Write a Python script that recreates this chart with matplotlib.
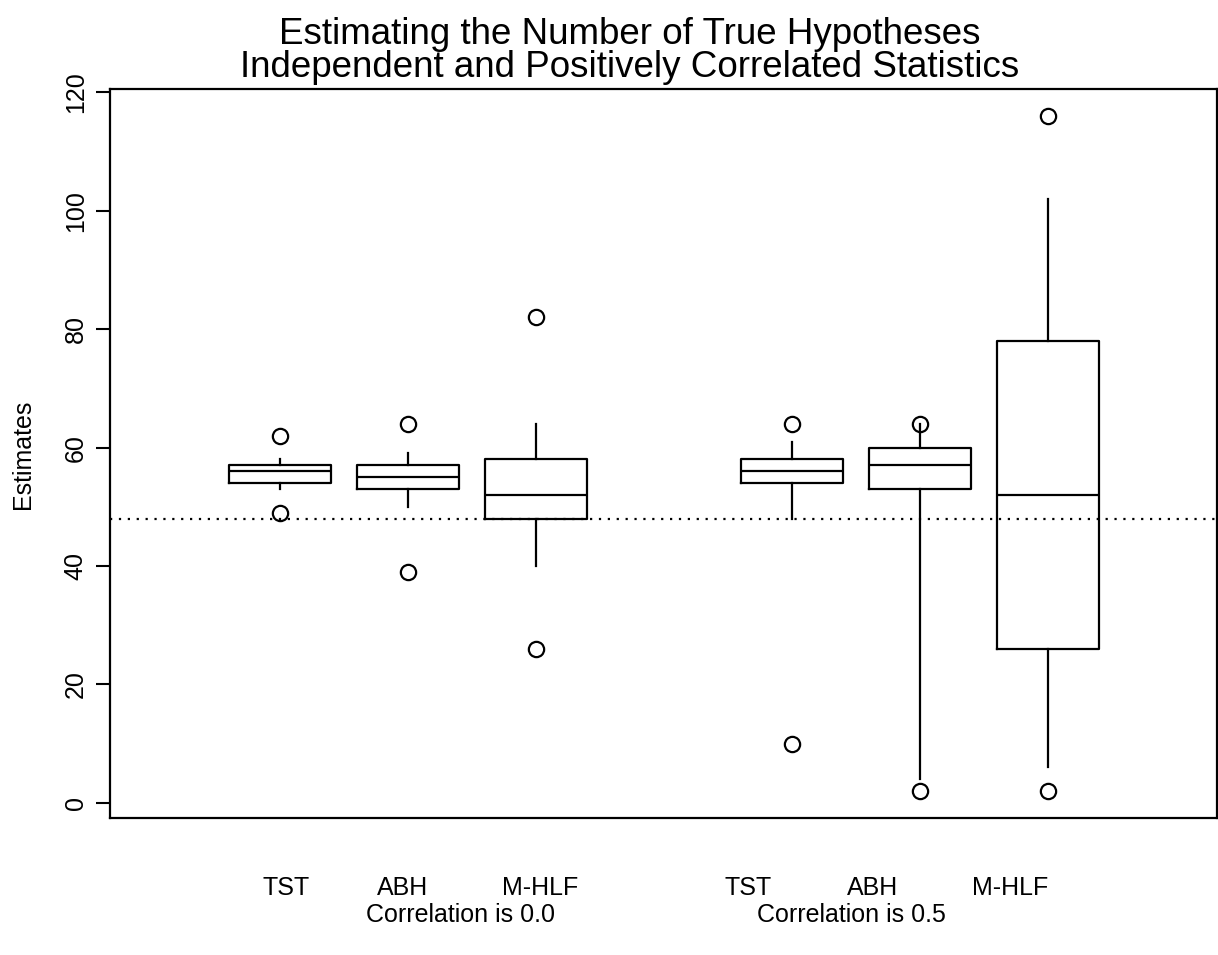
import matplotlib
matplotlib.use("Agg")
import matplotlib.pyplot as plt

plt.rcParams['font.family'] = ['Liberation Sans', 'DejaVu Sans']

# Box summaries (two correlation settings, three methods each)
methods = ["TST", "ABH", "M-HLF", "TST", "ABH", "M-HLF"]
positions = [1, 2, 3, 5, 6, 7]
medians = [56, 55, 52, 56, 57, 52]
q1 = [54, 53, 48, 54, 53, 26]
q3 = [57, 57, 58, 58, 60, 78]
whisker_low = [53, 50, 40, 48, 4, 6]
whisker_high = [58, 59, 64, 61, 64, 102]
outliers = [[62, 49], [64, 39], [82, 26], [64, 10], [64, 2], [116, 2]]
true_value = 48
# where the method names and group names sit under the plot (x in box units)
method_label_pos = [1.05, 1.96, 3.03, 4.66, 5.63, 6.70]
group_labels = ["Correlation is 0.0", "Correlation is 0.5"]
group_label_pos = [2.41, 5.46]

stats = []
for i in range(len(methods)):
    stats.append({
        "med": medians[i], "q1": q1[i], "q3": q3[i],
        "whislo": whisker_low[i], "whishi": whisker_high[i],
        "fliers": outliers[i], "label": methods[i],
    })

W, H = 1218, 955
fig = plt.figure(figsize=(W / 100, H / 100), dpi=100)
ax = fig.add_axes([110 / W, 1 - 818 / H, (1217 - 110) / W, (818 - 89) / H])

lw = 1.6
ax.bxp(stats, positions=positions, widths=0.8, showcaps=False,
       boxprops=dict(color="black", linewidth=lw),
       whiskerprops=dict(color="black", linewidth=lw),
       medianprops=dict(color="black", linewidth=lw),
       flierprops=dict(marker="o", markerfacecolor="none", markeredgecolor="black",
                       markersize=11, markeredgewidth=1.6))

ax.axhline(true_value, color="black", linestyle=(0, (1, 3)), linewidth=1.6)

ax.set_xlim(-0.33, 8.32)
ax.set_ylim(-2.56, 120.56)
ax.set_yticks(range(0, 121, 20))
ax.set_yticklabels([str(v) for v in range(0, 121, 20)], rotation=90, va="center", fontsize=18)
ax.tick_params(axis="y", length=10, width=1.5, pad=6)
ax.set_xticks([])
for s in ax.spines.values():
    s.set_linewidth(1.6)

# method names and group names below the axes (pixel rows from the top)
for lab, p in zip(methods, method_label_pos):
    ax.text(p, 1 - (895 - 89) / (818 - 89), lab, transform=ax.get_xaxis_transform(),
            ha="center", va="baseline", fontsize=18)
for lab, p in zip(group_labels, group_label_pos):
    ax.text(p, 1 - (922 - 89) / (818 - 89), lab, transform=ax.get_xaxis_transform(),
            ha="center", va="baseline", fontsize=18)

fig.text(23 / W, 1 - 454 / H, "Estimates", rotation=90, ha="center", va="center", fontsize=18)

fig.text(630 / W, 1 - 44 / H, "Estimating the Number of True Hypotheses",
         ha="center", va="baseline", fontsize=26.5)
fig.text(630 / W, 1 - 77 / H, "Independent and Positively Correlated Statistics",
         ha="center", va="baseline", fontsize=26.5)

fig.savefig("out.png", dpi=100)
